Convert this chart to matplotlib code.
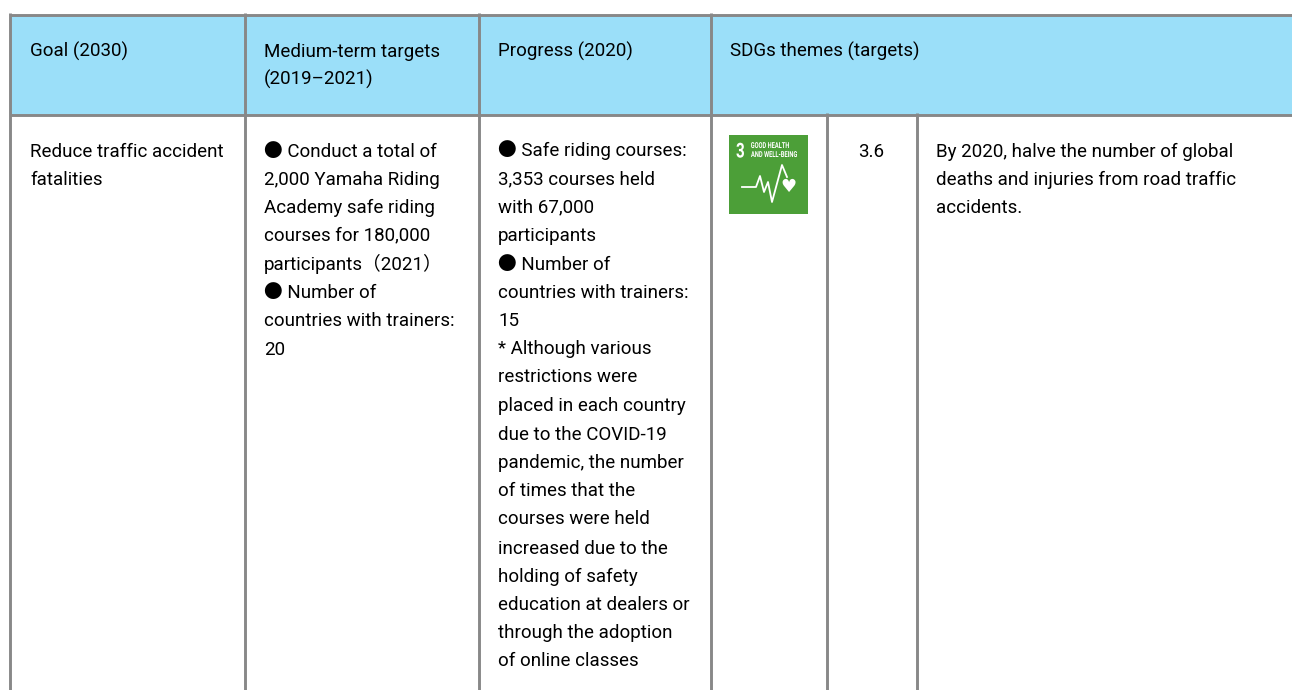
import matplotlib
matplotlib.use("Agg")
import matplotlib.pyplot as plt
from matplotlib.font_manager import FontProperties
from matplotlib.patches import PathPatch, Rectangle
from matplotlib.textpath import TextPath
from matplotlib.transforms import Affine2D

FONT = ["Roboto", "Noto Sans CJK JP", "DejaVu Sans"]
SIZE = 13.5
GREY = "#888888"
HEADER = "#9bdff9"
GREEN = "#4c9f38"

col_lines = [10, 244.5, 478.5, 711]
sub_lines = [827, 916.5]

headers = [
    (30, ["Goal (2030)"]),
    (264, ["Medium-term targets", "(2019–2021)"]),
    (498, ["Progress (2020)"]),
    (730, ["SDGs themes (targets)"]),
]

goal = ["Reduce traffic accident", "fatalities"]
medium = [
    "● Conduct a total of",
    "2,000 Yamaha Riding",
    "Academy safe riding",
    "courses for 180,000",
    "participants（2021）",
    "● Number of",
    "countries with trainers:",
    "20",
]
progress = [
    "● Safe riding courses:",
    "3,353 courses held",
    "with 67,000",
    "participants",
    "● Number of",
    "countries with trainers:",
    "15",
    "* Although various",
    "restrictions were",
    "placed in each country",
    "due to the COVID-19",
    "pandemic, the number",
    "of times that the",
    "courses were held",
    "increased due to the",
    "holding of safety",
    "education at dealers or",
    "through the adoption",
    "of online classes",
]
target_no = "3.6"
target_text = [
    "By 2020, halve the number of global",
    "deaths and injuries from road traffic",
    "accidents.",
]

# the page's line boxes are not even: lines with fallback glyphs push the next ones down
medium_base = [156, 184, 212, 239.5, 269.5, 297, 325, 354]
progress_base = [155.5, 183, 211, 240, 269, 297.5, 325.5, 353.5, 381.5, 410,
                 439, 467, 495, 523, 553, 581, 609, 637, 665]

pulse_x = [742, 756, 760, 764, 768, 772, 782, 787]
pulse_y = [187, 187, 176, 192, 182, 202, 165, 177]

fig = plt.figure(figsize=(12.92, 6.90), dpi=100)
ax = fig.add_axes([0, 0, 1, 1])
ax.set_xlim(0, 1292)
ax.set_ylim(690, 0)
ax.axis("off")


def put_text(x, base, s, ha="left"):
    ax.text(x, base + 1, s, family=FONT, fontsize=SIZE, color="black",
            va="baseline", ha=ha)


def draw_lines(x, bases, lines):
    for base, line in zip(bases, lines):
        put_text(x, base, line)


def narrow_text(x, base, s, width, height):
    # the icon lettering is condensed, so squeeze the glyph outline to fit
    path = TextPath((0, 0), s, size=10, prop=FontProperties(family="Roboto", weight="bold"))
    box = path.get_extents()
    tr = Affine2D().translate(-box.x0, 0).scale(width / box.width, -height / box.height).translate(x, base)
    ax.add_patch(PathPatch(path, transform=tr + ax.transData, fc="white", ec="none"))


# header band and grid
ax.add_patch(Rectangle((10, 15), 1282, 100, fc=HEADER, ec="none"))
ax.plot([10, 1292], [15, 15], color=GREY, lw=2.1, solid_capstyle="butt")
ax.plot([10, 1292], [115, 115], color=GREY, lw=2.1, solid_capstyle="butt")
for x in col_lines:
    ax.plot([x, x], [13, 690], color=GREY, lw=2.1, solid_capstyle="butt")
for x in sub_lines:
    ax.plot([x, x], [113, 690], color=GREY, lw=2.1, solid_capstyle="butt")

# text cells
for x, lines in headers:
    draw_lines(x, [56, 84], lines)
draw_lines(30, [156, 184], goal)
draw_lines(264, medium_base, medium)
draw_lines(498, progress_base, progress)
put_text(871.5, 156, target_no, ha="center")
draw_lines(936, [156, 184, 212], target_text)

# SDG 3 icon
ax.add_patch(Rectangle((729, 135), 79, 79, fc=GREEN, ec="none"))
narrow_text(736.5, 157.5, "3", 7.5, 15)
narrow_text(751, 148, "GOOD HEALTH", 38, 6)
narrow_text(751, 157, "AND WELL-BEING", 46, 6)
ax.plot(pulse_x, pulse_y, color="white", lw=1.3)
ax.text(788.5, 186.5, "♥", family=["DejaVu Sans"], fontsize=13, color="white",
        ha="center", va="center")

fig.savefig("out.png", dpi=100, facecolor="white")
